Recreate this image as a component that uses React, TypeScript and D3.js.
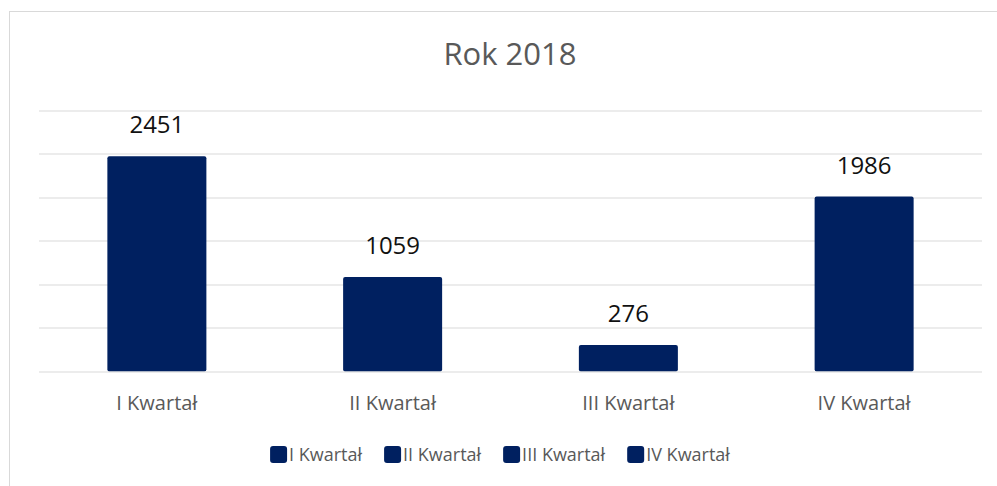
import { useEffect, useRef } from "react"
import * as d3 from "d3"

const title = "Rok 2018"
const categories = ["I Kwartał", "II Kwartał", "III Kwartał", "IV Kwartał"]
const values = [2451, 1059, 276, 1986]
const yTicks = [0, 500, 1000, 1500, 2000, 2500, 3000]

const WIDTH = 997
const HEIGHT = 486
const BAR_COLOR = "#002060"
const FONT = "'Open Sans', 'Noto Sans', sans-serif"

export default function App() {
  const svgRef = useRef<SVGSVGElement>(null)

  useEffect(() => {
    if (!svgRef.current) return
    const svg = d3.select(svgRef.current)
    svg.selectAll("*").remove()

    const margin = { top: 110.5, right: 15, bottom: 115, left: 39 }
    const innerWidth = WIDTH - margin.left - margin.right
    const innerHeight = HEIGHT - margin.top - margin.bottom

    // Outer chart border (cropped at right/bottom)
    svg
      .append("rect")
      .attr("x", 9.5)
      .attr("y", 11.5)
      .attr("width", 1200)
      .attr("height", 800)
      .attr("fill", "#fff")
      .attr("stroke", "#d9d9d9")

    const x = d3
      .scaleBand()
      .domain(categories)
      .range([0, innerWidth])
      .paddingInner(0.58)
      .paddingOuter(0.29)

    const y = d3
      .scaleLinear()
      .domain([0, d3.max(yTicks) || 0])
      .range([innerHeight, 0])

    const g = svg.append("g").attr("transform", `translate(${margin.left},${margin.top})`)

    // Gridlines
    g.selectAll(".grid")
      .data(yTicks.filter((t) => t > 0))
      .enter()
      .append("line")
      .attr("x1", 0)
      .attr("x2", innerWidth)
      .attr("y1", (d) => Math.round(y(d)) + 0.5)
      .attr("y2", (d) => Math.round(y(d)) + 0.5)
      .attr("stroke", "#d9d9d9")

    // Bars
    g.selectAll(".bar")
      .data(values)
      .enter()
      .append("rect")
      .attr("x", (_, i) => x(categories[i]) || 0)
      .attr("y", (d) => y(d) - 2)
      .attr("width", x.bandwidth())
      .attr("height", (d) => innerHeight - y(d) + 2.5)
      .attr("fill", BAR_COLOR)
      .attr("rx", 2)

    // Baseline on top of bars
    g.append("line")
      .attr("x1", 0)
      .attr("x2", innerWidth)
      .attr("y1", Math.round(y(0)) + 0.5)
      .attr("y2", Math.round(y(0)) + 0.5)
      .attr("stroke", "#d9d9d9")

    // Data labels
    g.selectAll(".label")
      .data(values)
      .enter()
      .append("text")
      .attr("x", (_, i) => (x(categories[i]) || 0) + x.bandwidth() / 2)
      .attr("y", (d) => y(d) - 25)
      .attr("text-anchor", "middle")
      .attr("font-family", FONT)
      .attr("font-size", 24)
      .attr("fill", "#111")
      .text((d) => d)

    // Category axis labels
    g.selectAll(".cat")
      .data(categories)
      .enter()
      .append("text")
      .attr("x", (d) => (x(d) || 0) + x.bandwidth() / 2)
      .attr("y", innerHeight + 39)
      .attr("text-anchor", "middle")
      .attr("font-family", FONT)
      .attr("font-size", 20)
      .attr("fill", "#595959")
      .text((d) => d)

    // Title
    svg
      .append("text")
      .attr("x", 510)
      .attr("y", 65)
      .attr("text-anchor", "middle")
      .attr("font-family", FONT)
      .attr("font-size", 31)
      .attr("fill", "#595959")
      .text(title)

    // Legend
    const legend = svg.append("g")
    const items = legend
      .selectAll(".item")
      .data(categories)
      .enter()
      .append("g")
    items
      .append("rect")
      .attr("width", 17)
      .attr("height", 17)
      .attr("rx", 3)
      .attr("fill", BAR_COLOR)
    items
      .append("text")
      .attr("x", 19)
      .attr("y", 15)
      .attr("font-family", FONT)
      .attr("font-size", 18)
      .attr("fill", "#595959")
      .text((d) => d)

    let offset = 0
    const positions: number[] = []
    items.each(function () {
      const t = (this as SVGGElement).querySelector("text") as SVGTextElement
      positions.push(offset)
      offset += 19 + t.getComputedTextLength() + 22
    })
    const total = offset - 22
    const start = 500 - total / 2
    items.attr("transform", (_, i) => `translate(${start + positions[i]},446)`)
  }, [])

  return (
    <svg
      ref={svgRef}
      width={WIDTH}
      height={HEIGHT}
      style={{ position: "absolute", left: 0, top: 0, background: "#fff" }}
    />
  )
}
